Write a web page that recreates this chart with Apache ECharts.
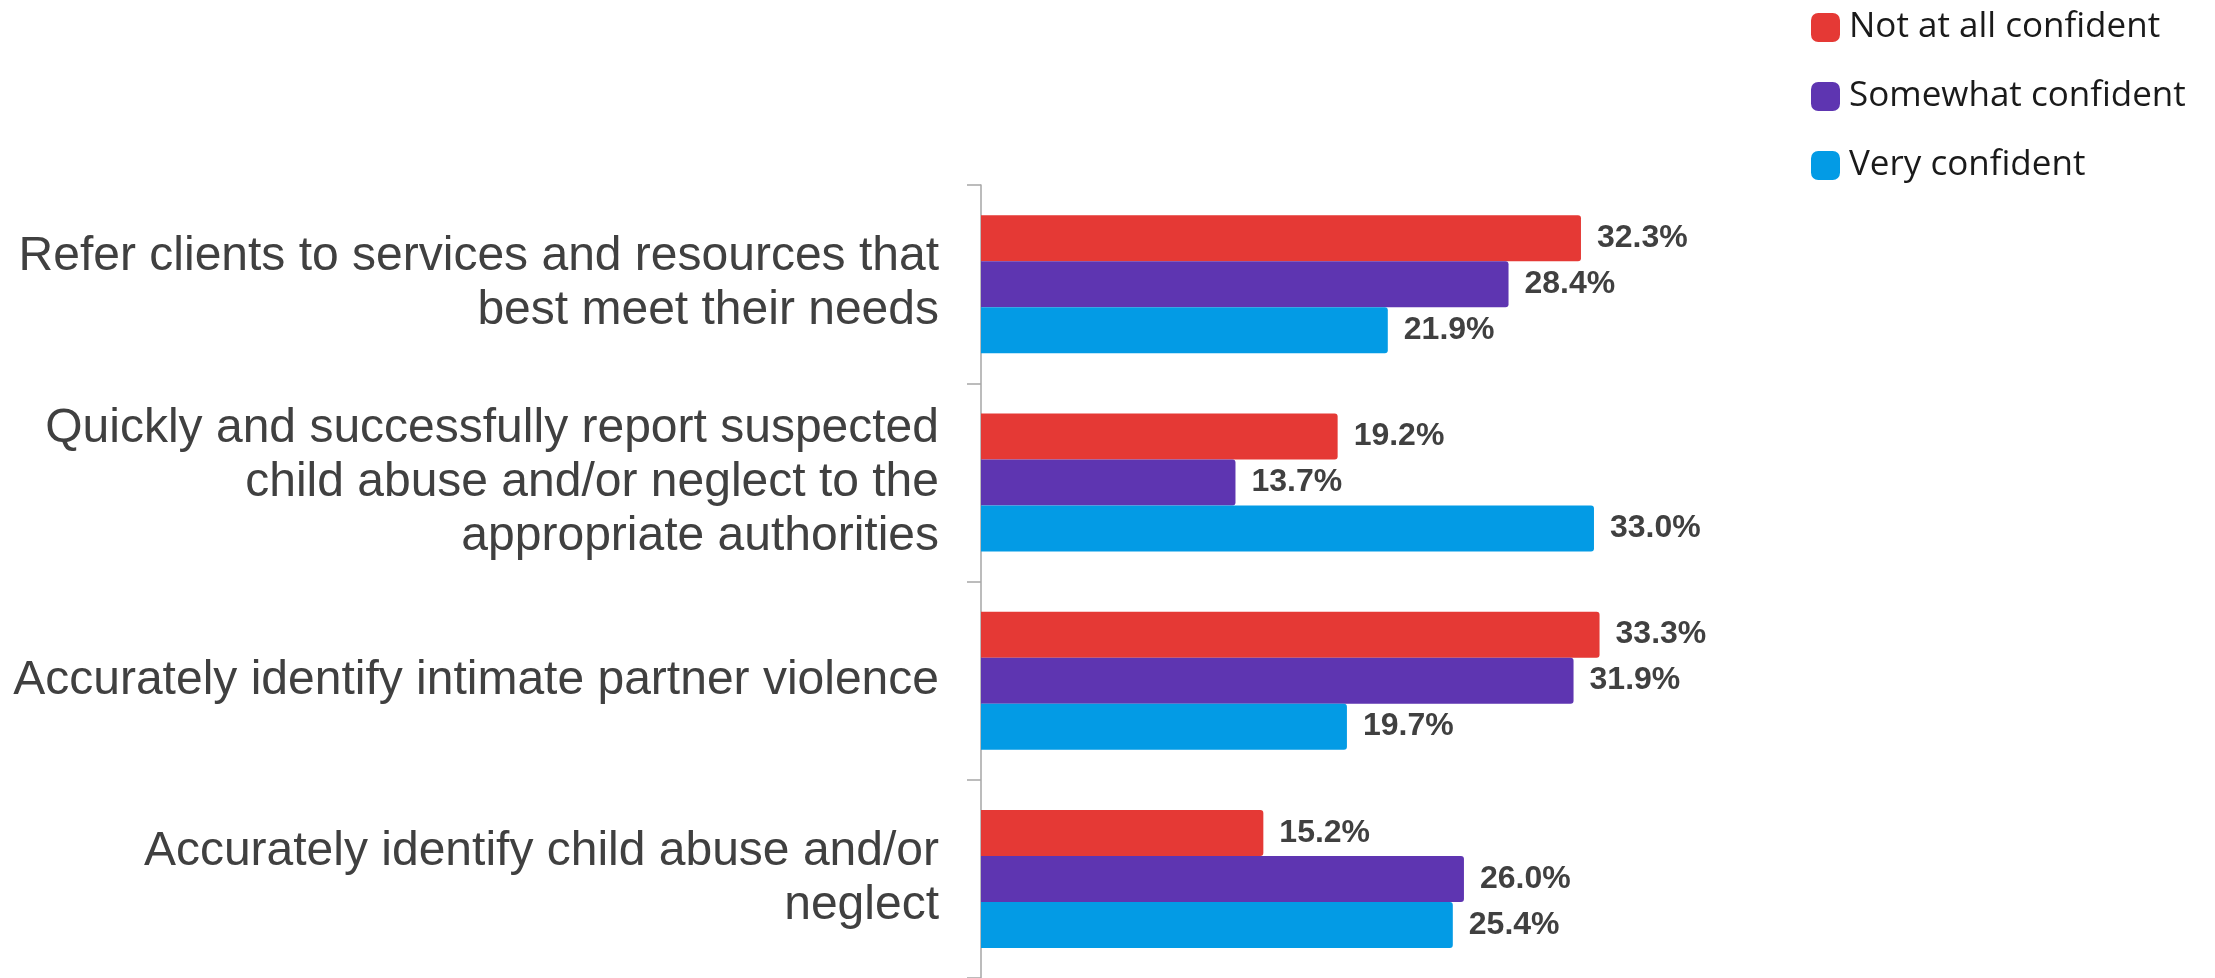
<!DOCTYPE html>
<html>
<head>
<meta charset="utf-8">
<style>
  html, body { margin: 0; padding: 0; background: #ffffff; }
  #chart { width: 2215px; height: 978px; }
</style>
<script src="https://cdn.jsdelivr.net/npm/echarts@6/dist/echarts.min.js"></script>
</head>
<body>
<div id="chart"></div>
<script>
const categories = [
  "Refer clients to services and resources that\nbest meet their needs",
  "Quickly and successfully report suspected\nchild abuse and/or neglect to the\nappropriate authorities",
  "Accurately identify intimate partner violence",
  "Accurately identify child abuse and/or\nneglect"
];
const seriesNames = ["Not at all confident", "Somewhat confident", "Very confident"];
const notAtAllConfident = [32.3, 19.2, 33.3, 15.2];
const somewhatConfident = [28.4, 13.7, 31.9, 26.0];
const veryConfident = [21.9, 33.0, 19.7, 25.4];
const colors = ["#E53935", "#5E35B1", "#039BE5"];

const chart = echarts.init(document.getElementById('chart'), null, { renderer: 'canvas' });

function makeSeries(name, data, color) {
  return {
    name: name,
    type: 'bar',
    data: data,
    barWidth: 46,
    barGap: '0%',
    itemStyle: { color: color, borderRadius: [0, 3, 3, 0] },
    label: {
      show: true,
      position: 'right',
      distance: 16,
      formatter: p => p.value.toFixed(1) + '%',
      fontFamily: "'Liberation Sans', Arial, sans-serif",
      fontWeight: 'bold',
      fontSize: 32,
      color: '#404040'
    }
  };
}

chart.setOption({
  backgroundColor: '#ffffff',
  animation: false,
  legend: {
    orient: 'vertical',
    left: 1806,
    top: 5,
    itemWidth: 29,
    itemHeight: 29,
    itemGap: 34,
    icon: 'roundRect',
    textStyle: {
      fontFamily: "'Open Sans', 'Noto Sans', sans-serif",
      fontSize: 35,
      lineHeight: 35,
      color: '#1a1a1a',
      padding: [0, 0, 0, 4]
    },
    data: seriesNames
  },
  grid: {
    left: 981,
    right: 491,
    top: 185,
    bottom: -1,
    containLabel: false
  },
  xAxis: {
    type: 'value',
    min: 0,
    max: 40,
    show: false
  },
  yAxis: {
    type: 'category',
    inverse: true,
    data: categories,
    axisLine: { show: true, lineStyle: { color: '#a6a6a6', width: 1.5 } },
    axisTick: { show: true, length: 14, lineStyle: { color: '#a6a6a6', width: 1.5 } },
    axisLabel: {
      margin: 42,
      fontFamily: "'Liberation Sans', Arial, sans-serif",
      fontSize: 48,
      lineHeight: 54,
      color: '#404040',
      align: 'right'
    },
    splitLine: { show: false }
  },
  series: [
    makeSeries(seriesNames[0], notAtAllConfident, colors[0]),
    makeSeries(seriesNames[1], somewhatConfident, colors[1]),
    makeSeries(seriesNames[2], veryConfident, colors[2])
  ]
});
</script>
</body>
</html>
